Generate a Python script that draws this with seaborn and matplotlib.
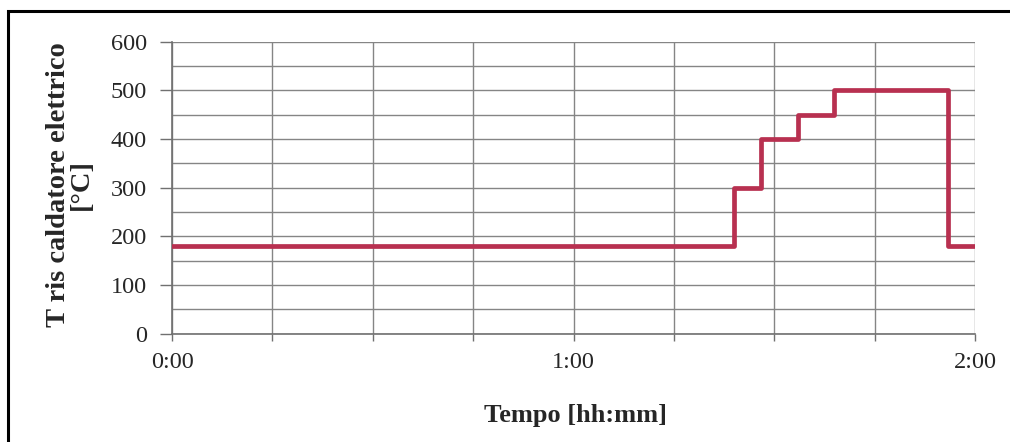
import matplotlib
matplotlib.use("Agg")
import matplotlib.pyplot as plt
import matplotlib.ticker as mticker
from matplotlib.patches import Rectangle
import seaborn as sns
import pandas as pd

# Data (time in minutes, temperature in °C)
time_min = [0, 84, 88, 93.5, 99, 116, 120]
temperature = [180, 300, 400, 450, 500, 180, 180]

x_label = "Tempo [hh:mm]"
y_label = "T ris caldatore elettrico\n[°C]"

df = pd.DataFrame({"t": time_min, "T": temperature})

sns.set_theme(style="white")
plt.rcParams["font.family"] = ["Liberation Serif", "DejaVu Serif"]

fig = plt.figure(figsize=(10.10, 4.42), dpi=100)
ax = fig.add_axes([172 / 1010, 108.5 / 442, 803 / 1010, 291.8 / 442])

sns.lineplot(data=df, x="t", y="T", ax=ax, drawstyle="steps-post",
             color="#B83050", linewidth=3.4, zorder=3)

ax.set_xlim(0, 120)
ax.set_ylim(0, 600)

ax.xaxis.set_major_locator(mticker.MultipleLocator(60))
ax.xaxis.set_minor_locator(mticker.MultipleLocator(15))
ax.xaxis.set_major_formatter(mticker.FuncFormatter(lambda v, p: f"{int(v // 60)}:{int(v % 60):02d}"))
ax.yaxis.set_major_locator(mticker.MultipleLocator(100))
ax.yaxis.set_minor_locator(mticker.MultipleLocator(50))

ax.grid(True, which="both", color="#858585", linewidth=1.0)
ax.set_axisbelow(True)

for s in ["top", "right"]:
    ax.spines[s].set_visible(False)
for s in ["left", "bottom"]:
    ax.spines[s].set_visible(True)
    ax.spines[s].set_color("#707070")
    ax.spines[s].set_linewidth(1.2)

ax.tick_params(axis="y", which="major", direction="out", length=9, width=1,
               color="#707070", labelsize=17.5, pad=9, left=True)
ax.tick_params(axis="y", which="minor", length=0)
ax.tick_params(axis="x", which="both", direction="out", length=5, width=1,
               color="#707070", bottom=True)
ax.tick_params(axis="x", which="major", labelsize=17.5, pad=8)

ax.set_xlabel(x_label, fontsize=19, fontweight="bold")
ax.set_ylabel(y_label, fontsize=20.5, fontweight="bold", linespacing=0.9)
ax.xaxis.set_label_coords(0.502, -0.242)
ax.yaxis.set_label_coords(-0.097, 0.51)

# outer frame (left and top visible, rest cropped)
fig.patches.append(Rectangle((8 / 1010, -0.2), 1.2, 1.2 - 11 / 442,
                             transform=fig.transFigure, fill=False,
                             edgecolor="black", linewidth=2.2))

fig.savefig("out.png", dpi=100, facecolor="white")
